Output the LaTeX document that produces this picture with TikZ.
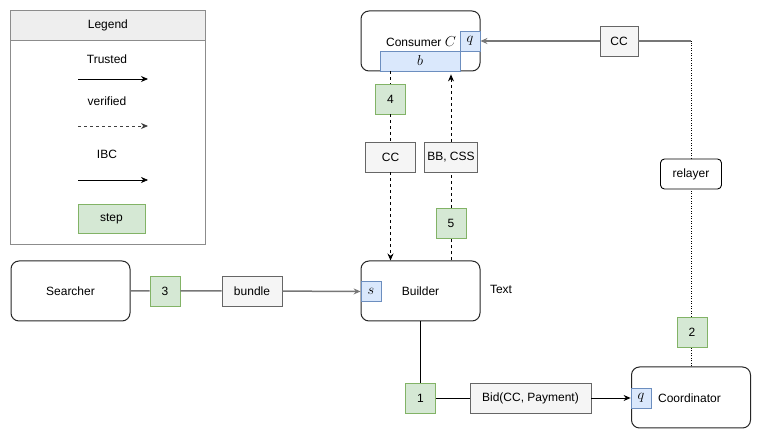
\documentclass[tikz,border=0pt]{standalone}
\usepackage{fontspec}
\setmainfont{Liberation Sans}
\usetikzlibrary{arrows.meta}
\definecolor{stepfill}{HTML}{D5E8D4}
\definecolor{stepdraw}{HTML}{82B366}
\definecolor{portfill}{HTML}{DAE8FC}
\definecolor{portdraw}{HTML}{6C8EBF}
\definecolor{lblfill}{HTML}{F5F5F5}
\definecolor{lbldraw}{HTML}{666666}
\definecolor{hdrfill}{HTML}{EEEEEE}
\definecolor{edgegray}{HTML}{777777}
\begin{document}
\begin{tikzpicture}[x=1pt,y=-1pt,
  every node/.style={font=\fontsize{12}{14}\selectfont, inner sep=0pt},
  ent/.style={draw=black!85, line width=1pt, rounded corners=8pt, minimum width=119pt, minimum height=60pt, fill=white},
  port/.style={draw=portdraw, fill=portfill, line width=0.8pt, minimum width=20pt, minimum height=20pt, font=\fontsize{14.4}{16}\selectfont},
  stepbox/.style={draw=stepdraw, fill=stepfill, line width=0.8pt, minimum width=30pt, minimum height=30pt},
  lbl/.style={draw=lbldraw, fill=lblfill, line width=0.8pt, minimum height=30pt, inner xsep=3pt},
  tip/.style={-{Stealth[length=7pt,width=6pt]}},
  trusted/.style={draw=black, line width=0.9pt, tip},
  ibcline/.style={draw=edgegray, line width=1.5pt, tip},
  verif/.style={draw=black, line width=0.9pt, dash pattern=on 3pt off 3pt, tip},
  relay/.style={draw=black, line width=1pt, dash pattern=on 1pt off 1.5pt}
]
\useasboundingbox (0,0) rectangle (761,438);

% Legend
\node[draw=black!45, line width=0.8pt, minimum width=195pt, minimum height=234pt, anchor=north west] (legend) at (10,10) {};
\node[draw=black!45, fill=hdrfill, line width=0.8pt, minimum width=195pt, minimum height=30pt, anchor=north west] (legendhdr) at (10,10) {Legend};
\node (ltrusted) at (107,59) {Trusted};
\coordinate (lta) at (78,79); \coordinate (ltb) at (148,79);
\draw[trusted] (lta) -- (ltb);
\node (lverified) at (107,101) {verified};
\coordinate (lva) at (78,126); \coordinate (lvb) at (148,126);
\draw[verif, draw=black!75] (lva) -- (lvb);
\node (libc) at (107,154) {IBC};
\coordinate (lia) at (78,180); \coordinate (lib) at (148,180);
\draw[trusted, line width=0.6pt] (lia) -- (lib);
\node[stepbox, minimum width=67pt, minimum height=29pt] (lstep) at (111.5,218.5) {step};

% Entities
\node[ent] (consumer) at (420.5,41) {};
\node (consumertxt) at (421,42) {Consumer {\fontsize{14.4}{16}\selectfont$C$}};
\node[port] (qc) at (470,41) {$q$};
\node[port, minimum width=80pt] (bc) at (420,61) {$b$};

\node[ent] (builder) at (420.5,291) {Builder};
\node[port] (sb) at (371,291.5) {$s$};
\node (text) at (501,289) {Text};

\node[ent] (searcher) at (70.5,291) {Searcher};

\node[ent, minimum height=61pt] (coord) at (691,397.5) {};
\node (coordtxt) at (689.5,398) {Coordinator};
\node[port] (qd) at (641,398) {$q$};

% Labels and steps
\node[stepbox] (s3) at (165,291) {3};
\node[lbl, minimum width=60pt] (bundle) at (252,291) {bundle};

\node[stepbox] (s1) at (420.5,398) {1};
\node[lbl, minimum width=121pt] (bid) at (530.5,398) {Bid(CC, Payment)};

\node[stepbox] (s4) at (390.5,99) {4};
\node[lbl, minimum width=50pt] (cc2) at (390.5,157) {CC};
\node[stepbox] (s5) at (451,223) {5};
\node[lbl, minimum width=53pt] (bbcss) at (451,157) {BB, CSS};

\node[lbl, minimum width=38pt] (cc1) at (619,41) {CC};
\node[draw=black, line width=0.9pt, rounded corners=4pt, minimum width=61pt, minimum height=30pt, fill=white] (relayer) at (691,174) {relayer};
\node[stepbox] (s2) at (692,332) {2};
\coordinate (corner) at (691,41);

% Connectors
\draw[ibcline] (searcher) -- (s3) -- (bundle) -- (sb);
\draw[trusted] (builder.south -| s1) -- (s1) -- (bid) -- (qd);
\draw[verif] (bc.south -| s4) -- (s4) -- (cc2) -- (builder.north -| s4);
\draw[verif, shorten >=3pt] (builder.north -| s5) -- (s5) -- (bbcss) -- (bc.south -| s5);
\draw[relay] (coord.north) -- (s2.south -| coord) (s2.north -| coord) -- (relayer) -- (corner);
\draw[ibcline] (corner) -- (cc1) -- (qc);
\end{tikzpicture}
\end{document}
